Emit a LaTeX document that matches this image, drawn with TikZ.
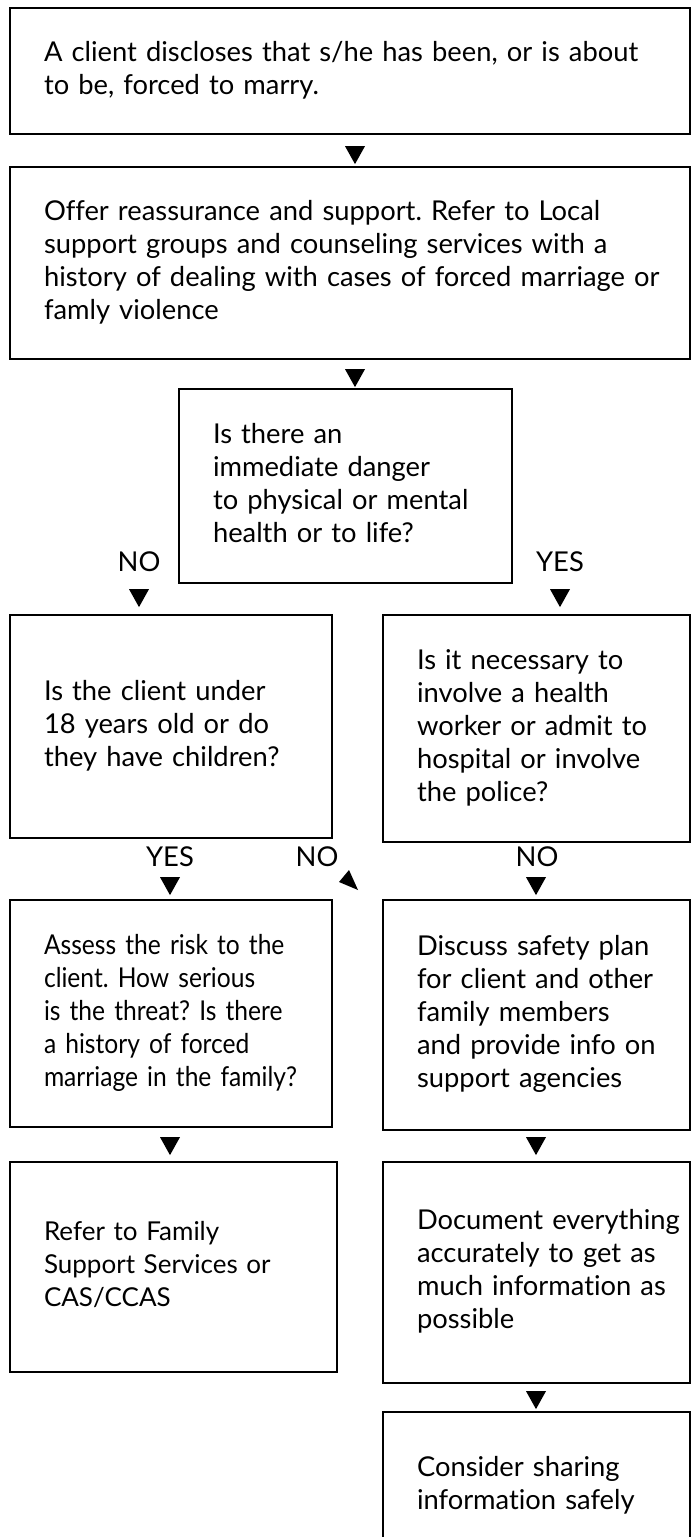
\documentclass[tikz,border=0pt]{standalone}
\usepackage{fontspec}
\setmainfont{Lato}[Ligatures=NoCommon]
\newfontfamily\narrowfont{Lato}[Ligatures=NoCommon, FakeStretch=0.9]
\usetikzlibrary{positioning,shapes.geometric}
\frenchspacing
\newcommand{\cardlines}[1]{\begin{tabular}{@{}l@{}}#1\end{tabular}}

\begin{document}
\begin{tikzpicture}[x=0.75pt,y=-0.75pt]
        \tikzset{
            card/.style={draw, line width=1.5pt, inner xsep=25.5pt, inner ysep=0pt, align=left,
                font={\fontsize{20.5pt}{24.75pt}\selectfont}},
            answer/.style={inner sep=0pt, font={\fontsize{20.5pt}{24.75pt}\selectfont}},
            tip/.style={isosceles triangle, isosceles triangle stretches, fill=black, inner sep=0pt,
                minimum width=15pt, minimum height=13.5pt, rotate=-90},
        }

        \useasboundingbox (0,0) rectangle (692,1537);
        \clip (0,0) rectangle (692,1537);

        \node[card, text width=459pt, minimum height=94.5pt] (disclose) at (350, 71)
            {\cardlines{A client discloses that s/he has been, or is about\\to be, forced to marry.}};
        \node[card, text width=459pt, minimum height=144pt] (support) at (350, 263)
            {\cardlines{Offer reassurance and support. Refer to Local\\support groups and counseling services with a\\history of dealing with cases of forced marriage or\\famly violence}};
        \node[card, text width=198.75pt, minimum height=145.5pt] (danger) at (345.5, 486)
            {\cardlines{Is there an\\immediate danger\\to physical or mental\\health or to life?}};
        \node[card, text width=190.5pt, minimum height=167.25pt] (minor) at (171, 726.5)
            {\cardlines{Is the client under\\18 years old or do\\they have children?}};
        \node[card, text width=179.25pt, minimum height=170.25pt] (police) at (536.5, 728.5)
            {\cardlines{Is it necessary to\\involve a health\\worker or admit to\\hospital or involve\\the police?}};
        \node[card, text width=190.5pt, minimum height=170.25pt, font={\narrowfont\fontsize{20.5pt}{24.75pt}\selectfont}] (risk) at (171, 1013.5)
            {\cardlines{Assess the risk to the\\client. How serious\\is the threat? Is there\\a history of forced\\marriage in the family?}};
        \node[card, text width=179.25pt, minimum height=172.5pt] (safety) at (536.5, 1015)
            {\cardlines{Discuss safety plan\\for client and other\\family members\\and provide info on\\support agencies}};
        \node[card, text width=194.25pt, minimum height=157.5pt, font={\fontsize{19.5pt}{24.75pt}\selectfont}] (refer) at (173.5, 1267)
            {\cardlines{Refer to Family\\Support Services or\\CAS/CCAS}};
        \node[card, text width=179.25pt, minimum height=165.75pt] (document) at (536.5, 1272.5)
            {\cardlines{Document everything\\accurately to get as\\much information as\\possible}};
        \node[card, text width=179.25pt, minimum height=111pt] (share) at (536.5, 1486)
            {\cardlines{Consider sharing\\information safely}};

        \node[answer] (dangerNo) at (139, 562) {NO};
        \node[answer] (dangerYes) at (560, 562) {YES};
        \node[answer] (minorYes) at (170, 857) {YES};
        \node[answer] (minorNo) at (317, 857) {NO};
        \node[answer] (policeNo) at (537, 857) {NO};

        \node[tip] (tipSupport) at (355, 152) {};
        \node[tip] (tipDanger) at (355, 375) {};
        \node[tip] (tipMinor) at (139, 595) {};
        \node[tip] (tipPolice) at (560, 595) {};
        \node[tip] (tipRisk) at (170, 883) {};
        \node[tip] (tipSafety) at (536, 883) {};
        \node[tip] (tipRefer) at (170, 1143) {};
        \node[tip] (tipDocument) at (536, 1143) {};
        \node[tip] (tipShare) at (536, 1397) {};

        % tilted tip beside the middle NO
        \coordinate (tipBack) at (349, 880);
        \fill (tipBack) ++(0,-10) -- ++(-10,12) -- ++(19,8) -- cycle;
\end{tikzpicture}
\end{document}
